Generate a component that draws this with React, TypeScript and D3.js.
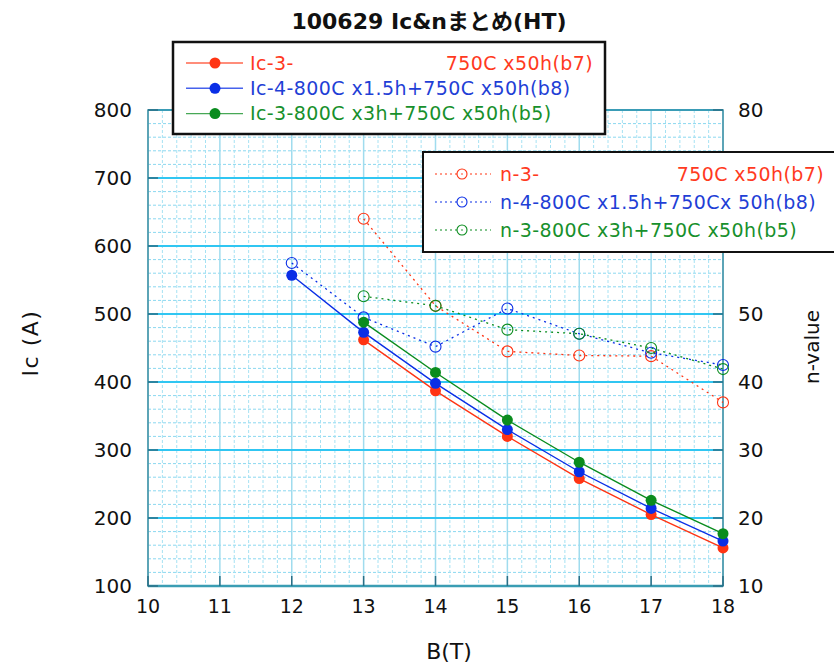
import React from "react";
import * as d3 from "d3";

// Magnetic field (T) at which each sample was measured
const fields = [12, 13, 14, 15, 16, 17, 18];

// Critical current Ic (A); null where the sample was not measured
const icB7 = [null, 462, 387, 320, 258, 205, 156];
const icB8 = [557, 473, 398, 330, 268, 214, 166];
const icB5 = [null, 488, 414, 344, 282, 226, 177];

// n-value
const nB7 = [null, 64.0, 51.2, 44.5, 43.9, 43.8, 37.0];
const nB8 = [57.5, 49.5, 45.2, 50.8, 47.1, 44.3, 42.5];
const nB5 = [null, 52.6, 51.2, 47.7, 47.1, 45.0, 41.9];

const xTicks = [10, 11, 12, 13, 14, 15, 16, 17, 18];
const leftTicks = [100, 200, 300, 400, 500, 600, 700, 800];
const rightTicks = [10, 20, 30, 40, 50, 60, 70, 80];

const RED = "#ff3413";
const BLUE = "#0a2ee6";
const GREEN = "#0a8c1e";
const RED_T = "#ff3a1e";
const BLUE_T = "#1f3fd6";
const GREEN_T = "#17902c";

const icSeries = [
  { name: "Ic-3-", tail: "750C x50h(b7)", values: icB7, color: RED, text: RED_T },
  { name: "Ic-4-800C x1.5h+750C x50h(b8)", tail: "", values: icB8, color: BLUE, text: BLUE_T },
  { name: "Ic-3-800C x3h+750C x50h(b5)", tail: "", values: icB5, color: GREEN, text: GREEN_T },
];
const nSeries = [
  { name: "n-3-", tail: "750C x50h(b7)", values: nB7, color: RED, text: RED_T },
  { name: "n-4-800C x1.5h+750Cx 50h(b8)", tail: "", values: nB8, color: BLUE, text: BLUE_T },
  { name: "n-3-800C x3h+750C x50h(b5)", tail: "", values: nB5, color: GREEN, text: GREEN_T },
];

const FONT = "'DejaVu Sans', 'Noto Sans CJK JP', sans-serif";

export default function App() {
  const W = 834;
  const H = 665;
  const left = 148, right = 723, top = 110, bottom = 586;

  const x = d3.scaleLinear().domain([10, 18]).range([left, right]);
  const yL = d3.scaleLinear().domain([100, 800]).range([bottom, top]);
  const yR = d3.scaleLinear().domain([10, 80]).range([bottom, top]);

  const minorY = d3.range(100, 801, 20).filter((v) => v % 100 !== 0);
  const minorX = d3.range(10, 18.001, 0.2).filter((v) => Math.abs(v - Math.round(v)) > 1e-6);

  const pts = (vals: (number | null)[]) =>
    fields.map((b, i) => [b, vals[i]] as [number, number | null]).filter((d) => d[1] != null) as [number, number][];

  const lineL = d3.line<[number, number]>().x((d) => x(d[0])).y((d) => yL(d[1]));
  const lineR = d3.line<[number, number]>().x((d) => x(d[0])).y((d) => yR(d[1]));

  const legendFont = { fontSize: 19, letterSpacing: 0.4 };

  return (
    <svg width={W} height={H} style={{ position: "absolute", left: 0, top: 0, background: "#fff" }} fontFamily={FONT}>
      <rect x={0} y={0} width={W} height={H} fill="#fff" />
      {/* grid */}
      <g>
        {minorY.map((v) => (
          <line key={"my" + v} x1={left} x2={right} y1={yL(v)} y2={yL(v)} stroke="#8bd8f0" strokeWidth={1} strokeDasharray="3,2" />
        ))}
        {minorX.map((v) => (
          <line key={"mx" + v} x1={x(v)} x2={x(v)} y1={top} y2={bottom} stroke="#a6e2f3" strokeWidth={1} strokeDasharray="3,2" />
        ))}
        {xTicks.map((v) => (
          <line key={"Mx" + v} x1={x(v)} x2={x(v)} y1={top} y2={bottom} stroke="#a0dcee" strokeWidth={1.5} />
        ))}
        {leftTicks.map((v) => (
          <line key={"My" + v} x1={left} x2={right} y1={yL(v)} y2={yL(v)} stroke="#30c6f2" strokeWidth={2} />
        ))}
      </g>
      {/* frame and ticks */}
      <rect x={left} y={top} width={right - left} height={bottom - top} fill="none" stroke="#3e8ea3" strokeWidth={1.5} />
      <line x1={left} x2={right} y1={bottom} y2={bottom} stroke="#3a9db3" strokeWidth={2.5} />
      {leftTicks.map((v) => (
        <line key={"tl" + v} x1={left} x2={left + 10} y1={yL(v)} y2={yL(v)} stroke="#2a6f86" strokeWidth={1.5} />
      ))}
      {rightTicks.map((v) => (
        <line key={"tr" + v} x1={right - 10} x2={right} y1={yR(v)} y2={yR(v)} stroke="#2a6f86" strokeWidth={1.5} />
      ))}
      {xTicks.map((v) => (
        <line key={"tx" + v} x1={x(v)} x2={x(v)} y1={bottom - 10} y2={bottom} stroke="#2a6f86" strokeWidth={1.5} />
      ))}
      {/* tick labels */}
      {leftTicks.map((v) => (
        <text key={"ll" + v} x={132} y={yL(v)} dy="0.36em" textAnchor="end" fontSize={20} fill="#111">{v}</text>
      ))}
      {rightTicks.map((v) => (
        <text key={"rl" + v} x={738} y={yR(v)} dy="0.36em" textAnchor="start" fontSize={20} fill="#111">{v}</text>
      ))}
      {xTicks.map((v) => (
        <text key={"xl" + v} x={x(v)} y={613} textAnchor="middle" fontSize={19} fill="#111">{v}</text>
      ))}
      {/* axis titles */}
      <text x={449} y={659} textAnchor="middle" fontSize={22} fill="#111">B(T)</text>
      <text transform={`translate(38,343) rotate(-90)`} textAnchor="middle" fontSize={22} fill="#111" letterSpacing={1.5}>Ic (A)</text>
      <text transform={`translate(819,347) rotate(-90)`} textAnchor="middle" fontSize={20} fill="#111">n-value</text>
      <text x={429} y={29} textAnchor="middle" fontSize={22} fontWeight="bold" fill="#111">100629 Ic&amp;nまとめ(HT)</text>

      {/* n-value series (right axis) */}
      {nSeries.map((s) => (
        <g key={s.name}>
          <path d={lineR(pts(s.values)) || ""} fill="none" stroke={s.color} strokeWidth={1.3} strokeDasharray="2,4" />
          {pts(s.values).map((d) => (
            <circle key={d[0]} cx={x(d[0])} cy={yR(d[1])} r={5.5} fill="none" stroke={s.color} strokeWidth={1.1} />
          ))}
        </g>
      ))}
      {/* Ic series (left axis) */}
      {icSeries.map((s) => (
        <g key={s.name}>
          <path d={lineL(pts(s.values)) || ""} fill="none" stroke={s.color} strokeWidth={1.4} />
          {pts(s.values).map((d) => (
            <circle key={d[0]} cx={x(d[0])} cy={yL(d[1])} r={5.5} fill={s.color} />
          ))}
        </g>
      ))}

      {/* Ic legend */}
      <g>
        <rect x={173} y={42} width={432} height={92} fill="#fff" stroke="#111" strokeWidth={2.5} />
        {icSeries.map((s, i) => {
          const yy = 63 + i * 25.3;
          return (
            <g key={s.name}>
              <line x1={186} x2={243} y1={yy} y2={yy} stroke={s.color} strokeWidth={1.4} opacity={0.75} />
              <circle cx={215} cy={yy} r={5.5} fill={s.color} />
              <text x={250} y={yy} dy="0.36em" {...legendFont} fill={s.text}>{s.name}</text>
              {s.tail && (
                <text x={593} y={yy} dy="0.36em" textAnchor="end" {...legendFont} fill={s.text}>{s.tail}</text>
              )}
            </g>
          );
        })}
      </g>
      {/* n legend */}
      <g>
        <rect x={423} y={152} width={420} height={100} fill="#fff" stroke="#111" strokeWidth={2} />
        {nSeries.map((s, i) => {
          const yy = 174 + i * 28;
          return (
            <g key={s.name}>
              <line x1={435} x2={491} y1={yy} y2={yy} stroke={s.color} strokeWidth={1.2} strokeDasharray="2,3" />
              <circle cx={462} cy={yy} r={5} fill="#fff" stroke={s.color} strokeWidth={1.1} />
              <circle cx={462} cy={yy} r={0.8} fill={s.color} />
              <text x={500} y={yy} dy="0.36em" {...legendFont} fill={s.text}>{s.name}</text>
              {s.tail && (
                <text x={824} y={yy} dy="0.36em" textAnchor="end" {...legendFont} fill={s.text}>{s.tail}</text>
              )}
            </g>
          );
        })}
      </g>
    </svg>
  );
}
